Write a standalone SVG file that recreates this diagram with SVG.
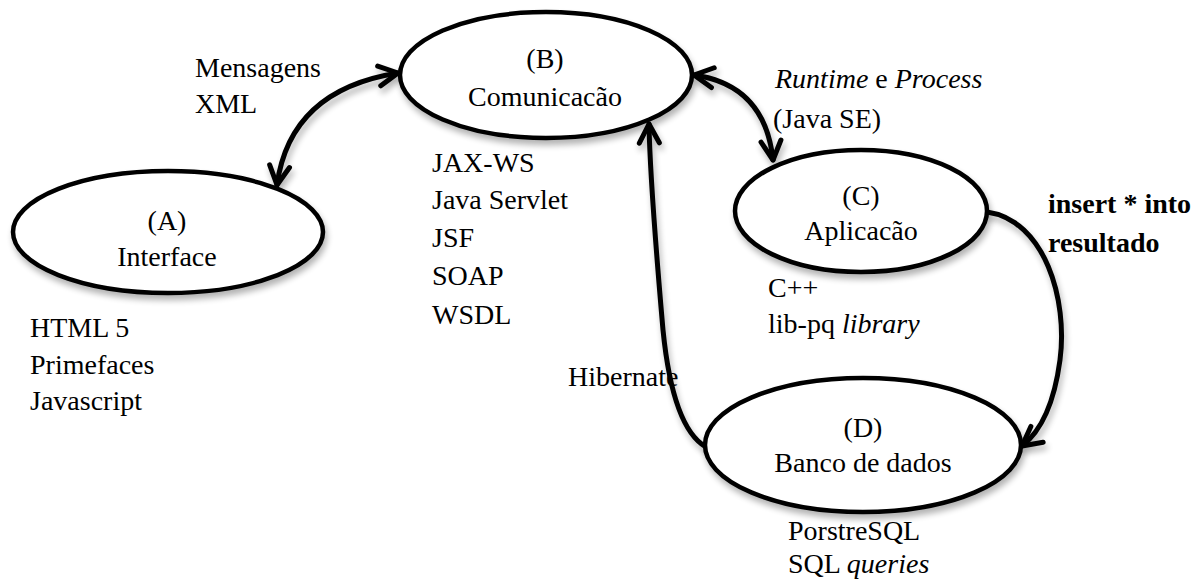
<svg xmlns="http://www.w3.org/2000/svg" width="1202" height="583" viewBox="0 0 1202 583">
<defs>
<filter id="sh" x="-10%" y="-10%" width="130%" height="140%">
<feGaussianBlur in="SourceAlpha" stdDeviation="3"/>
<feOffset dx="2" dy="5" result="b"/>
<feComponentTransfer><feFuncA type="linear" slope="0.3"/></feComponentTransfer>
<feMerge><feMergeNode/><feMergeNode in="SourceGraphic"/></feMerge>
</filter>
<marker id="ah" markerUnits="userSpaceOnUse" viewBox="-24 -14 28 28" markerWidth="28" markerHeight="28" refX="0" refY="0" orient="auto-start-reverse">
<path d="M-19,-10 L0,0 L-19,10" fill="none" stroke="#000" stroke-width="5" stroke-linecap="round" stroke-linejoin="round"/>
</marker>
</defs>
<style>
text{font-size:28px;fill:#000}
.c{text-anchor:middle}
.b{font-weight:bold}
.i{font-style:italic}
ellipse{fill:#fff;stroke:#000;stroke-width:4.5}
.e{fill:none;stroke:#000;stroke-width:5;stroke-linecap:round}
</style>
<g id="connectors" filter="url(#sh)">
<path class="e" d="M277,185 Q290,90 398,73" marker-start="url(#ah)" marker-end="url(#ah)"/>
<path class="e" d="M694,75 Q765,85 773,160" marker-start="url(#ah)" marker-end="url(#ah)"/>
<path class="e" d="M987,212 C1045,220 1068,300 1060,360 C1054,405 1040,432 1022,446" marker-end="url(#ah)"/>
<path class="e" d="M706,447 C685,435 670,400 663,330 C656,250 650,180 649,124" marker-end="url(#ah)"/>
</g>
<g font-family="Liberation Serif, DejaVu Serif, Tinos, Times New Roman, Times, serif">
<g id="nodeA">
<ellipse cx="168" cy="232" rx="155" ry="61" filter="url(#sh)"/>
<text class="c" x="167" y="230">(A)</text>
<text class="c" x="167" y="266">Interface</text>
</g>
<g id="nodeB">
<ellipse cx="546" cy="75" rx="146" ry="63" filter="url(#sh)"/>
<text class="c" x="545" y="68">(B)</text>
<text class="c" x="545" y="106">Comunicacão</text>
</g>
<g id="nodeC">
<ellipse cx="861" cy="211" rx="126" ry="61" filter="url(#sh)"/>
<text class="c" x="861" y="205">(C)</text>
<text class="c" x="861" y="240">Aplicacão</text>
</g>
<g id="nodeD">
<ellipse cx="863" cy="445" rx="158" ry="67" filter="url(#sh)"/>
<text class="c" x="863" y="437">(D)</text>
<text class="c" x="863" y="472">Banco de dados</text>
</g>
<g id="labels">
<text x="195" y="77">Mensagens</text>
<text x="195" y="113">XML</text>
<text x="432" y="172">JAX-WS</text>
<text x="432" y="209">Java Servlet</text>
<text x="432" y="247">JSF</text>
<text x="432" y="285">SOAP</text>
<text x="432" y="324">WSDL</text>
<text x="30" y="337">HTML 5</text>
<text x="30" y="374">Primefaces</text>
<text x="30" y="410">Javascript</text>
<text x="775" y="88"><tspan class="i">Runtime</tspan> e <tspan class="i">Process</tspan></text>
<text x="773" y="128">(Java SE)</text>
<text x="768" y="297">C++</text>
<text x="768" y="333">lib-pq <tspan class="i">library</tspan></text>
<text class="b" x="1048" y="213">insert * into</text>
<text class="b" x="1048" y="252">resultado</text>
<text x="568" y="386">Hibernate</text>
<text x="788" y="540">PorstreSQL</text>
<text x="788" y="573">SQL <tspan class="i">queries</tspan></text>
</g>
</g>
</svg>
